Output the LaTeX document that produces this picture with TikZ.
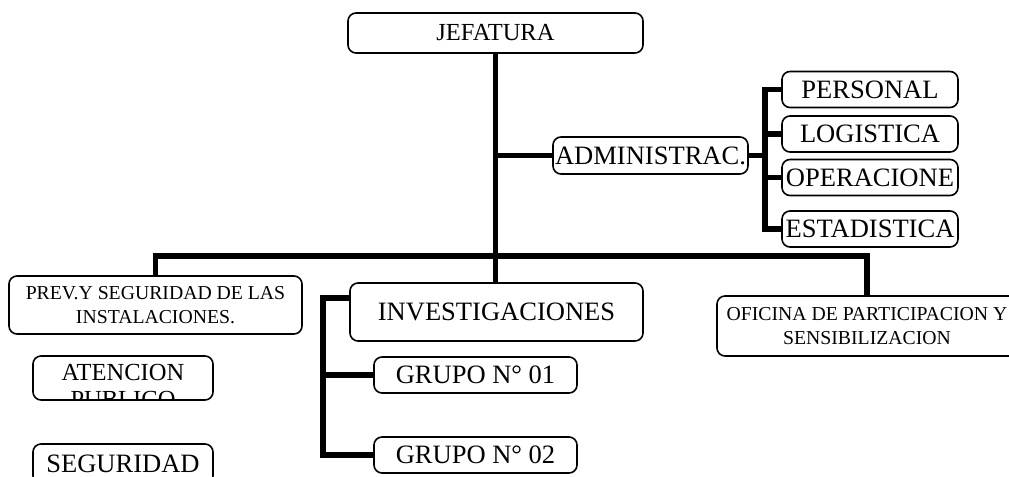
\documentclass[tikz,border=0pt]{standalone}
\usepackage{fontspec}
\setmainfont{Liberation Serif}
\newcommand{\bigtxt}{\fontsize{19.9}{22}\selectfont}
\newcommand{\midtxt}{\fontsize{18.4}{19.8}\selectfont}
\newcommand{\smalltxt}{\fontsize{14.8}{18}\selectfont}
\tikzset{
  unit/.style={draw, rounded corners=6pt, line width=1.2pt, inner sep=0pt, align=center},
  link/.style={line width=4.3pt}
}

\begin{document}
\begin{tikzpicture}[x=.75pt, y=-.75pt]
  \useasboundingbox (0,0) rectangle (1009,476);
  \clip (0,0) rectangle (1009,476);

  \node[unit, font=\midtxt, minimum width=221.25pt, minimum height=30pt] (jefatura) at (495.5,33) {JEFATURA};
  \node[unit, font=\bigtxt, minimum width=146.25pt, minimum height=27.75pt] (admin) at (650.5,155.5) {ADMINISTRAC.};
  \node[unit, font=\smalltxt, minimum width=219.75pt, minimum height=43.5pt] (prev) at (155.5,305) {PREV.Y SEGURIDAD DE LAS\\INSTALACIONES.};
  \node[unit, font=\bigtxt, minimum width=219.75pt, minimum height=43.5pt] (invest) at (496.5,312) {INVESTIGACIONES};
  \node[unit, font=\smalltxt, minimum width=225pt, minimum height=45pt] (oficina) at (867,326) {OFICINA DE PARTICIPACION Y\\SENSIBILIZACION};
  \node[unit, minimum width=135pt, minimum height=33pt] (atencion) at (123,378) {};
  \node[unit, font=\bigtxt, minimum width=135pt, minimum height=30pt] (seguridad) at (123,464) {SEGURIDAD};

  \begin{scope}
    \clip[rounded corners=6pt] (atencion.south west) rectangle (atencion.north east);
    \node[font=\midtxt, align=center, inner sep=0pt] (atenciontxt) at (123,386) {ATENCION\\PUBLICO};
  \end{scope}

  \coordinate (abus) at (765,155.5);
  \coordinate (hbus) at (496,256);
  \coordinate (ibus) at (323,375);

  \foreach \name/\lbl/\y in {personal/PERSONAL/89.5, logistica/LOGISTICA/134,
                             operacione/OPERACIONE/177.5, estadistica/ESTADISTICA/229}{
    \node[unit, font=\bigtxt, minimum width=132pt, minimum height=27pt] (\name) at (870,\y) {\lbl};
  }
  \foreach \n/\y in {1/375, 2/455}{
    \node[unit, font=\bigtxt, minimum width=152.25pt, minimum height=27pt] (grupo\n) at (475.5,\y) {GRUPO N° 0\n};
  }

  \draw[link] (jefatura.south) -- (jefatura.south |- invest.north);
  \draw[link] (jefatura.south |- admin.west) -- (admin.west);
  \draw[link] (admin.east) -- (abus);
  \draw[link] (personal.west) -| (abus) |- (estadistica.west);
  \draw[link] (abus |- logistica.west) -- (logistica.west);
  \draw[link] (abus |- operacione.west) -- (operacione.west);
  \draw[link] (prev.north) |- (hbus) -| (oficina.north);
  \draw[link] ([yshift=10.5pt]invest.west) -| (ibus) |- (grupo2.west);
  \draw[link] (ibus) -- (grupo1.west);
\end{tikzpicture}
\end{document}
